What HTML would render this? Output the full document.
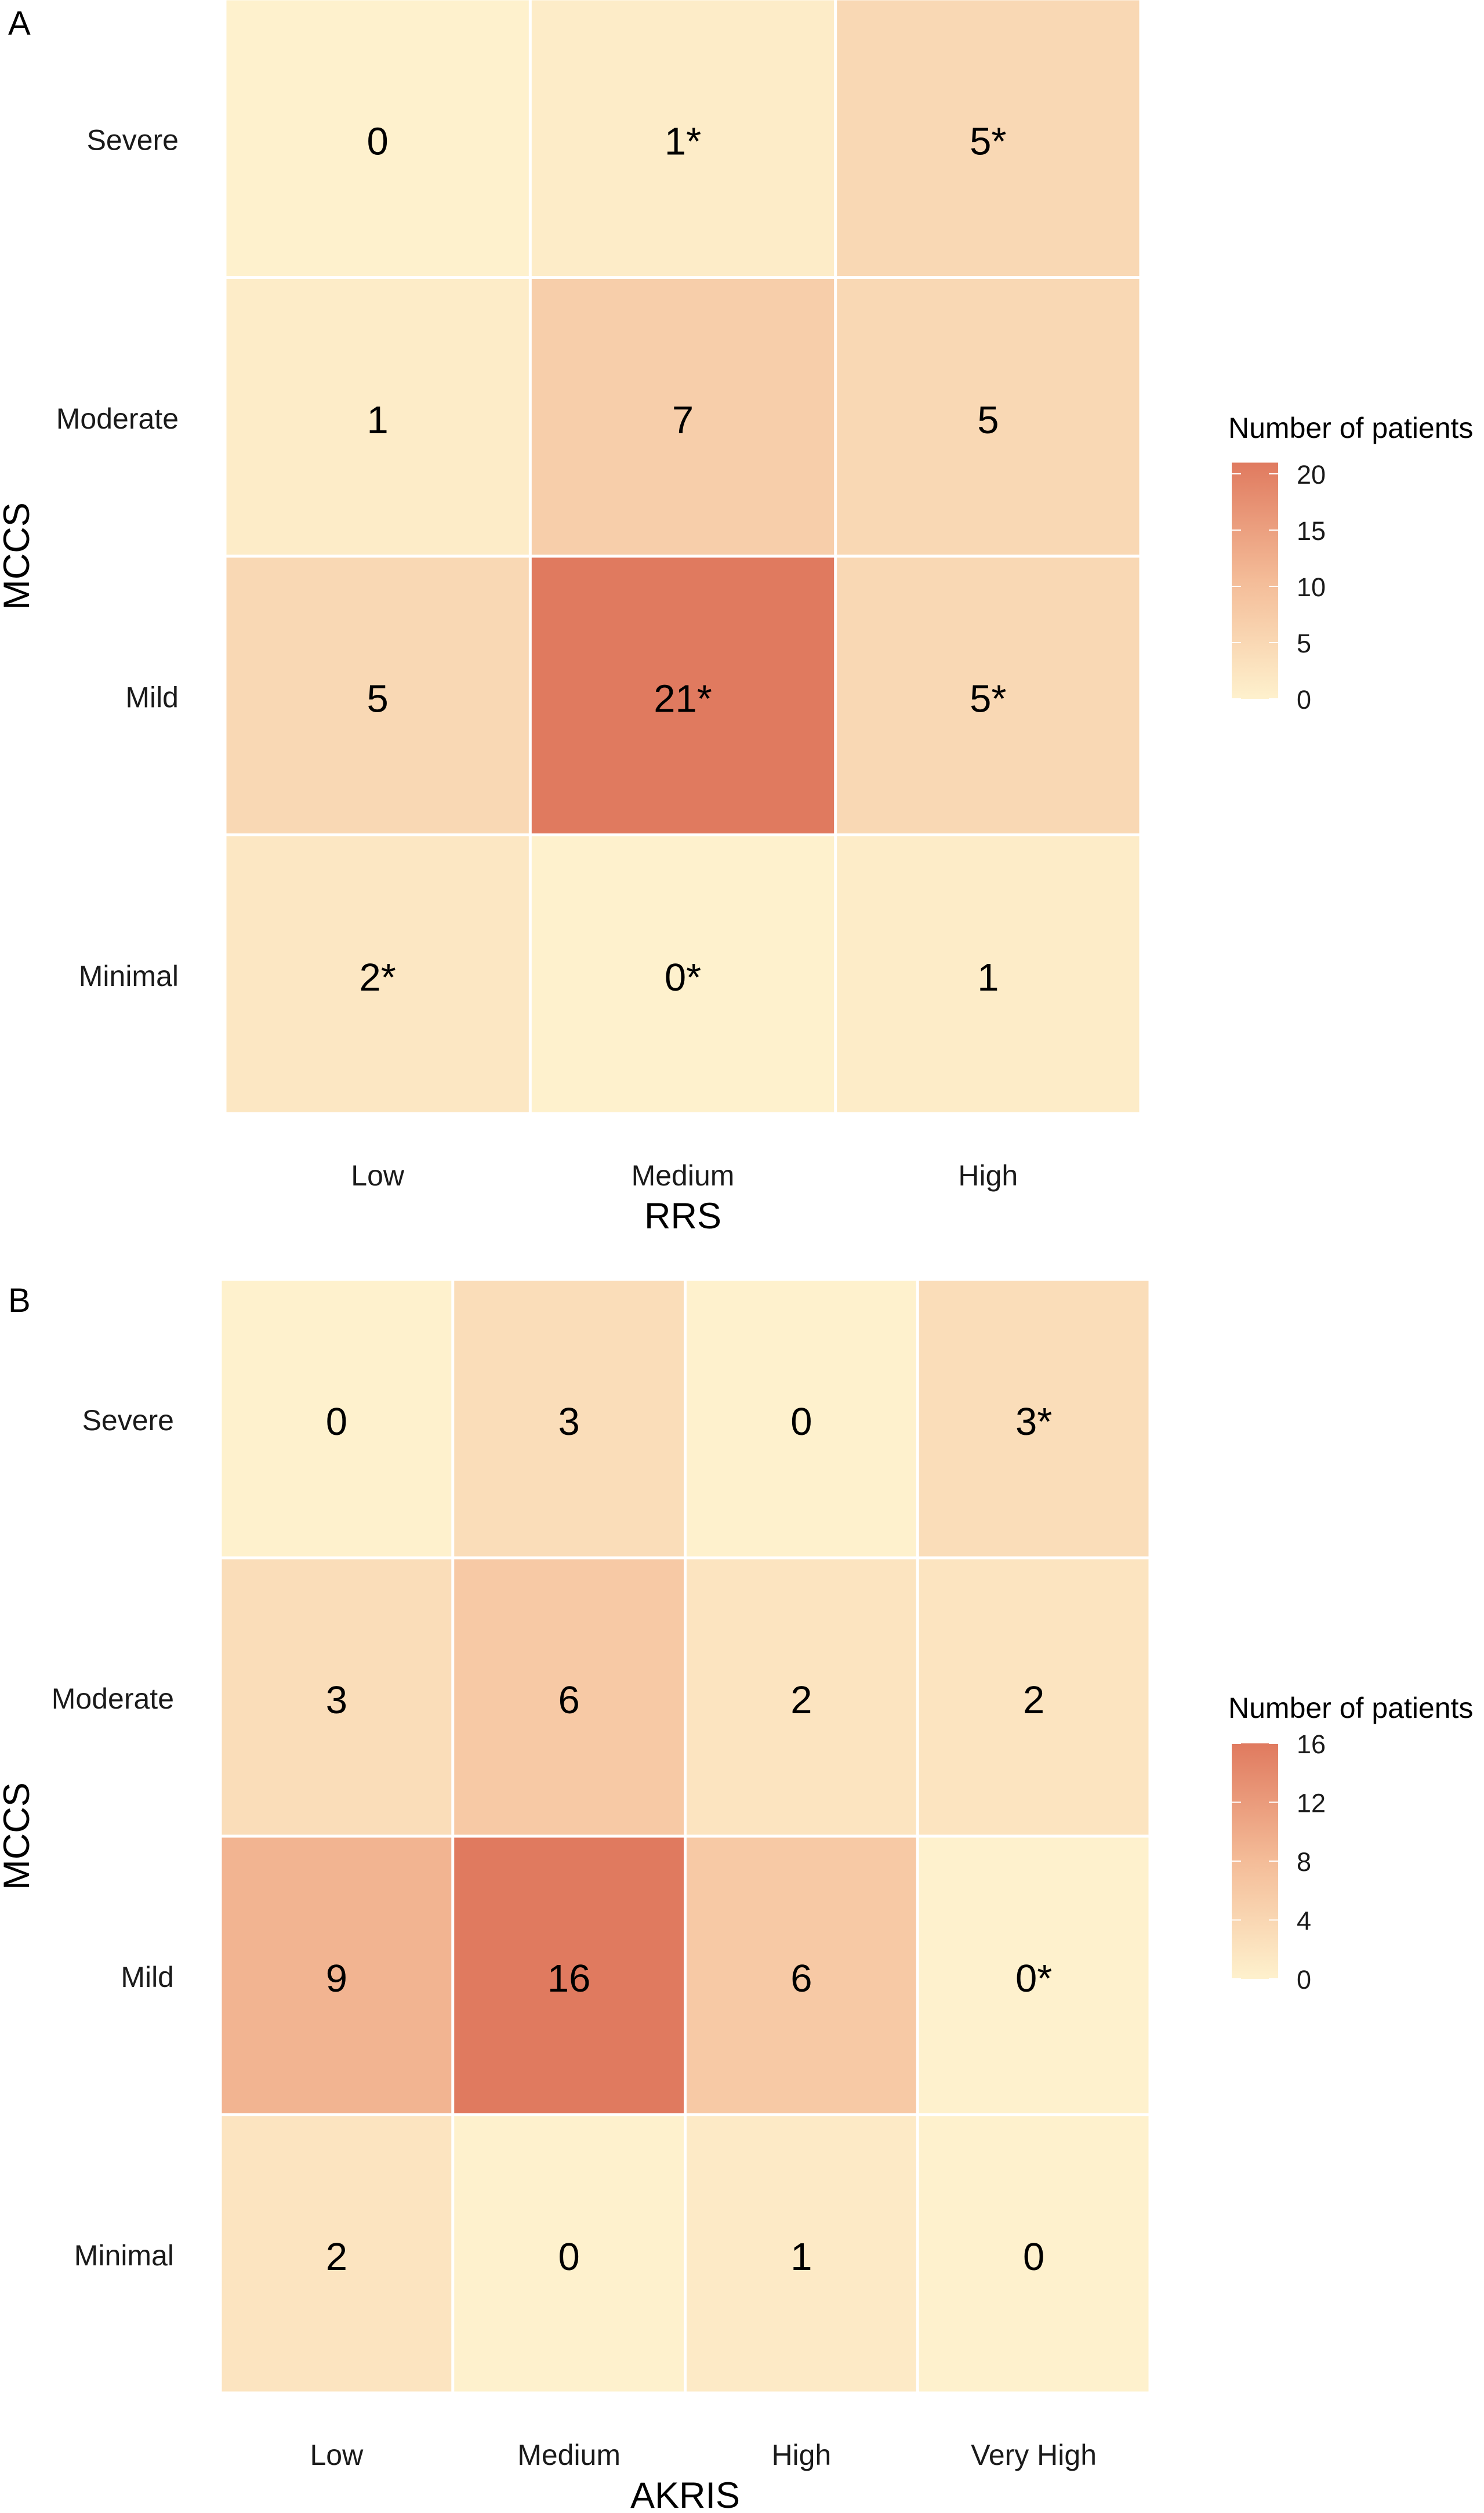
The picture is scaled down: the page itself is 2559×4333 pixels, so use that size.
<!DOCTYPE html>
<html><head><meta charset="utf-8"><style>
html,body{margin:0;padding:0;background:#fff;}
svg{display:block;font-family:"Liberation Sans",Arial,sans-serif;}
</style></head><body>
<svg id="chart" width="2559" height="4333" viewBox="0 0 2559 4333" xmlns="http://www.w3.org/2000/svg">
<defs>
<linearGradient id="gradA" x1="0" y1="1" x2="0" y2="0">
<stop offset="0" stop-color="#FEF1CD"/><stop offset="0.5" stop-color="#F4BC98"/><stop offset="1" stop-color="#E07A5F"/>
</linearGradient>
<linearGradient id="gradB" x1="0" y1="1" x2="0" y2="0">
<stop offset="0" stop-color="#FEF1CD"/><stop offset="0.5" stop-color="#F4BC98"/><stop offset="1" stop-color="#E07A5F"/>
</linearGradient>
</defs>
<g id="panelA"></g>
<g id="panelB"></g>
</svg>
<script>
// Panel A data
const rowsA = ["Severe","Moderate","Mild","Minimal"];
const colsA = ["Low","Medium","High"];
const valuesA = [[0,1,5],[1,7,5],[5,21,5],[2,0,1]];
const labelsA = [["0","1*","5*"],["1","7","5"],["5","21*","5*"],["2*","0*","1"]];
const ticksA = [0,5,10,15,20];
// Panel B data
const rowsB = ["Severe","Moderate","Mild","Minimal"];
const colsB = ["Low","Medium","High","Very High"];
const valuesB = [[0,3,0,3],[3,6,2,2],[9,16,6,0],[2,0,1,0]];
const labelsB = [["0","3","0","3*"],["3","6","2","2"],["9","16","6","0*"],["2","0","1","0"]];
const ticksB = [0,4,8,12,16];

const NS = "http://www.w3.org/2000/svg";
function mk(tag, attrs, parent, text){
  const e = document.createElementNS(NS, tag);
  for (const k in attrs) e.setAttribute(k, attrs[k]);
  if (text !== undefined) e.textContent = text;
  parent.appendChild(e);
  return e;
}
function lerp(a,b,t){return a+(b-a)*t;}
function hex(c){return [parseInt(c.slice(1,3),16),parseInt(c.slice(3,5),16),parseInt(c.slice(5,7),16)];}
const stops = [hex("#FEF1CD"), hex("#F4BC98"), hex("#E07A5F")];
function color(t){
  t = Math.max(0, Math.min(1, t));
  let a, b, u;
  if (t < 0.5){a = stops[0]; b = stops[1]; u = t/0.5;} else {a = stops[1]; b = stops[2]; u = (t-0.5)/0.5;}
  return "rgb(" + [0,1,2].map(i => Math.round(lerp(a[i], b[i], u))).join(",") + ")";
}

function draw(gid, cfg){
  const g = document.getElementById(gid);
  const {rows, cols, values, labels, ticks, x0, x1, y0, y1, vmax, letter, letterY, xTitle, legX, legTop, legBot, legTitleY, grad} = cfg;
  const cw = (x1-x0)/cols.length, rh = (y1-y0)/rows.length;
  const xs = i => x0 + i*cw, ys = j => y0 + j*rh;
  mk("text", {x: 14, y: letterY, "font-size": 58,  }, g, letter);
  rows.forEach((r, j) => {
    cols.forEach((c, i) => {
      const rect = mk("rect", {x: xs(i)+2.5, y: ys(j)+2.5, width: cw-5, height: rh-5, fill: color(values[j][i]/vmax)}, g);
      
      
      const t = mk("text", {x: xs(i)+cw/2, y: ys(j)+rh/2+28, "font-size": 67, "text-anchor": "middle"}, g, labels[j][i]);
      
      
    });
    const yl = mk("text", {x: x0-80, y: ys(j)+rh/2+20, "font-size": 50, "text-anchor": "end", fill: "#1a1a1a"}, g, r);
    
    
  });
  cols.forEach((c, i) => {
    const xl = mk("text", {x: xs(i)+cw/2, y: y1+124, "font-size": 50, "text-anchor": "middle", fill: "#1a1a1a"}, g, c);
    
    
  });
  mk("text", {x: (x0+x1)/2, y: y1+198, "font-size": 63, "text-anchor": "middle",  }, g, xTitle);
  const ym = (y0+y1)/2;
  mk("text", {x: 50, y: ym, "font-size": 63, "text-anchor": "middle", transform: "rotate(-90 50 " + ym + ")",  }, g, "MCCS");
  // legend
  mk("text", {x: legX-6, y: legTitleY, "font-size": 50,  }, g, "Number of patients");
  const barTop = legBot - (legBot-legTop)*(vmax/ticks[ticks.length-1]);
  mk("rect", {x: legX, y: barTop, width: 80, height: legBot-barTop, fill: "url(#" + grad + ")",  }, g);
  ticks.forEach(v => {
    const ty = legBot - (legBot-legTop)*(v/ticks[ticks.length-1]);
    mk("line", {x1: legX, x2: legX+16, y1: ty, y2: ty, stroke: "#fff", "stroke-width": 2}, g);
    mk("line", {x1: legX+64, x2: legX+80, y1: ty, y2: ty, stroke: "#fff", "stroke-width": 2}, g);
    const tl = mk("text", {x: legX+112, y: ty+17, "font-size": 45, fill: "#1a1a1a"}, g, String(v));
    
    
  });
}
draw("panelA", {rows: rowsA, cols: colsA, values: valuesA, labels: labelsA, ticks: ticksA,
  x0: 388, x1: 1967, y0: -2, y1: 1920, vmax: 21, letter: "A", letterY: 60, xTitle: "RRS",
  legX: 2124, legTop: 817, legBot: 1205, legTitleY: 755, grad: "gradA"});
draw("panelB", {rows: rowsB, cols: colsB, values: valuesB, labels: labelsB, ticks: ticksB,
  x0: 380, x1: 1983, y0: 2206, y1: 4126, vmax: 16, letter: "B", letterY: 2262, xTitle: "AKRIS",
  legX: 2124, legTop: 3006, legBot: 3412, legTitleY: 2962, grad: "gradB"});
</script>
</body></html>
